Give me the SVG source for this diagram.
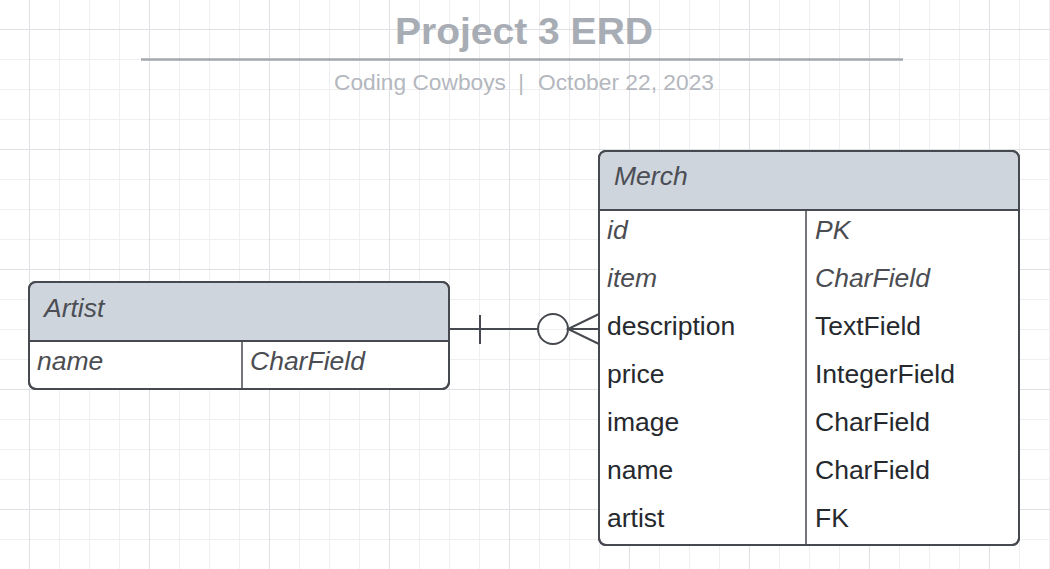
<svg xmlns="http://www.w3.org/2000/svg" width="1050" height="569" viewBox="0 0 1050 569">
<style>
.title{font-family:"Liberation Sans",Arial,sans-serif;font-weight:bold;font-size:37px;fill:#a8acb4}
.sub{font-family:"Liberation Sans",Arial,sans-serif;font-size:22px;fill:#b4b7be}
.hdr{font-family:"Liberation Sans",Arial,sans-serif;font-style:italic;font-size:26.5px;fill:#4b4e54}
.it{font-family:"Liberation Sans",Arial,sans-serif;font-style:italic;font-size:26.5px;fill:#4b4d52}
.rg{font-family:"Liberation Sans",Arial,sans-serif;font-size:26.5px;fill:#26292e}
.box{fill:#ffffff;stroke:#46494f;stroke-width:2}
.head{fill:#cfd5dd}
.ln{stroke:#46494f;stroke-width:2;fill:none}
.div{stroke:#46494f;stroke-width:1.5}
.conn{stroke:#46494f;stroke-width:2;fill:none}
</style>
<defs>
<pattern id="grid" patternUnits="userSpaceOnUse" x="29" y="29" width="120" height="120">
<path d="M30.5 0V120M60.5 0V120M90.5 0V120M0 30.5H120M0 60.5H120M0 90.5H120" stroke="#efeff1" stroke-width="1"/>
<path d="M0.5 0V120M0 0.5H120" stroke="#dfe0e3" stroke-width="1"/>
</pattern>
</defs>
<rect width="1050" height="569" fill="#ffffff"/>
<rect width="1050" height="569" fill="url(#grid)"/>

<g id="title">
<text class="title" x="395" y="44" textLength="258" lengthAdjust="spacingAndGlyphs">Project 3 ERD</text>
<line x1="141" y1="59.5" x2="903" y2="59.5" stroke="#a3a7ae" stroke-width="2.5"/>
<text class="sub" x="334" y="90" textLength="172" lengthAdjust="spacingAndGlyphs">Coding Cowboys</text>
<text class="sub" x="521" y="90" text-anchor="middle">|</text>
<text class="sub" x="538" y="90" textLength="176" lengthAdjust="spacingAndGlyphs">October 22, 2023</text>
</g>

<g id="connectors">
<line class="conn" x1="449" y1="329" x2="538" y2="329"/>
<line class="conn" x1="480" y1="315" x2="480" y2="344"/>
<circle class="conn" cx="553" cy="329" r="15" fill="#ffffff"/>
<path class="conn" d="M599 314L568 329L599 344M568 329H599"/>
</g>

<g id="artist">
<rect class="box" x="29" y="282" width="420" height="107" rx="7"/>
<path class="head" d="M30 341V289A6 6 0 0 1 36 283H442A6 6 0 0 1 448 289V341Z"/>
<rect class="box" x="29" y="282" width="420" height="107" rx="7" style="fill:none"/>
<line class="ln" x1="29" y1="341" x2="449" y2="341"/>
<line class="div" x1="242" y1="341" x2="242" y2="389"/>
<text class="hdr" x="44" y="317">Artist</text>
<text class="it" x="37" y="370">name</text>
<text class="it" x="250" y="370">CharField</text>
</g>

<g id="merch">
<rect class="box" x="599" y="151" width="420" height="394" rx="7"/>
<path class="head" d="M600 210V158A6 6 0 0 1 606 152H1012A6 6 0 0 1 1018 158V210Z"/>
<rect class="box" x="599" y="151" width="420" height="394" rx="7" style="fill:none"/>
<line class="ln" x1="599" y1="210" x2="1019" y2="210"/>
<line class="div" x1="806" y1="210" x2="806" y2="545"/>
<text class="hdr" x="614" y="185">Merch</text>
<text class="it" x="607" y="239">id</text>
<text class="it" x="815" y="239">PK</text>
<text class="it" x="607" y="287">item</text>
<text class="it" x="815" y="287">CharField</text>
<text class="rg" x="607" y="335">description</text>
<text class="rg" x="815" y="335">TextField</text>
<text class="rg" x="607" y="383">price</text>
<text class="rg" x="815" y="383">IntegerField</text>
<text class="rg" x="607" y="431">image</text>
<text class="rg" x="815" y="431">CharField</text>
<text class="rg" x="607" y="479">name</text>
<text class="rg" x="815" y="479">CharField</text>
<text class="rg" x="607" y="527">artist</text>
<text class="rg" x="815" y="527">FK</text>
</g>
</svg>
